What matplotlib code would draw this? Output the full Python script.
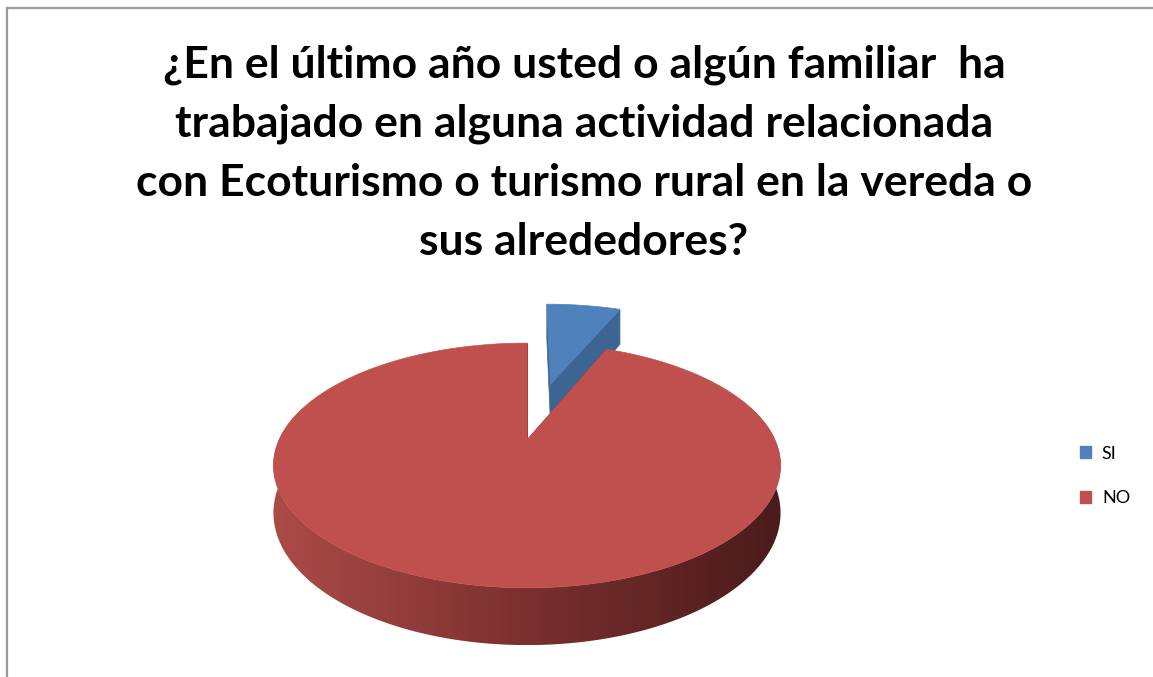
import numpy as np
import matplotlib
matplotlib.use('Agg')
import matplotlib.pyplot as plt
from matplotlib.patches import Polygon, Patch, Rectangle
from matplotlib.colors import to_rgb, LinearSegmentedColormap

W, H_PX = 1153, 677

TITLE_LINES = ['¿En el último año usted o algún familiar  ha',
               'trabajado en alguna actividad relacionada',
               'con Ecoturismo o turismo rural en la vereda o',
               'sus alrededores?']
LABELS = ['SI', 'NO']
VALUES = [2, 30]
COLORS = ['#4F81BD', '#C0504D']
FACE_COLORS = ['#3C6593', '#8E3A38']
EXPLODE = [0.54, 0.0]

# 3d look of the pie
CENTER_PX = (527, 440)
UNIT_PX = 248
TILT = 0.472
PERSP = 0.208
THICK = 0.183
WALL_CMAP = LinearSegmentedColormap.from_list('wall', ['#AC4B48', '#7A302E', '#4A1B1B'])
FONT = 'Lato'


def proj(u, v, z):
    s = 1.0 / (1.0 + PERSP * v)
    return u * s, (v * TILT + z) * s


def drawSlice(ax, a0, a1, explode, topColor, faceColor, zo):
    mid = (a0 + a1) / 2
    du, dv = explode * np.sin(mid), explode * np.cos(mid)
    n = max(int(np.degrees(a1 - a0)), 2)
    angs = np.linspace(a0, a1, n + 1)

    # outer wall, only the front part shows -> one polygon with a gradient
    front = angs[np.cos(angs) < 0.3]
    if len(front) > 1:
        topArc = [proj(du + np.sin(t), dv + np.cos(t), 0) for t in front]
        botArc = [proj(du + np.sin(t), dv + np.cos(t), -THICK) for t in front[::-1]]
        wall = Polygon(topArc + botArc, closed=True, facecolor='none', edgecolor='none')
        ax.add_patch(wall)
        xs = np.array([p[0] for p in topArc + botArc])
        ys = np.array([p[1] for p in topArc + botArc])
        grad = np.linspace(0, 1, 256).reshape(1, -1)
        im = ax.imshow(grad, cmap=WALL_CMAP, aspect='auto', zorder=zo,
                       extent=(xs.min(), xs.max(), ys.min(), ys.max()), interpolation='bilinear')
        im.set_clip_path(wall)

    # cut faces (hidden ones get covered by the top)
    for t in (a0, a1):
        pts = [proj(du, dv, 0), proj(du + np.sin(t), dv + np.cos(t), 0),
               proj(du + np.sin(t), dv + np.cos(t), -THICK), proj(du, dv, -THICK)]
        ax.add_patch(Polygon(pts, closed=True, facecolor=faceColor, edgecolor=faceColor,
                             lw=0.5, zorder=zo + 0.1))

    # top
    pts = [proj(du, dv, 0)] + [proj(du + np.sin(t), dv + np.cos(t), 0) for t in angs]
    ax.add_patch(Polygon(pts, closed=True, facecolor=topColor, edgecolor=topColor,
                         lw=0.5, zorder=zo + 0.2))


fig = plt.figure(figsize=(W / 100, H_PX / 100), dpi=100)

xl, yl = (-1.6, 1.6), (-0.95, 0.9)
ax = fig.add_axes([(CENTER_PX[0] + xl[0] * UNIT_PX) / W,
                   (H_PX - CENTER_PX[1] + yl[0] * UNIT_PX) / H_PX,
                   (xl[1] - xl[0]) * UNIT_PX / W,
                   (yl[1] - yl[0]) * UNIT_PX / H_PX])

fracs = np.array(VALUES, dtype=float) / sum(VALUES)
edges = np.concatenate([[0], np.cumsum(fracs)]) * 2 * np.pi
slices = []
for i in range(len(VALUES)):
    slices.append((edges[i], edges[i + 1], EXPLODE[i], COLORS[i], FACE_COLORS[i]))
# back slices first
slices.sort(key=lambda s: -(np.cos((s[0] + s[1]) / 2) * (1 + s[2])))
for k, s in enumerate(slices):
    drawSlice(ax, *s, zo=1 + k)

ax.set_xlim(*xl)
ax.set_ylim(*yl)
ax.axis('off')

# title
for i, line in enumerate(TITLE_LINES):
    fig.text(584 / W, 1 - (65 + i * 59) / H_PX, line, ha='center', va='center',
             fontsize=32, fontweight='bold', family=FONT, color='black')

handles = [Patch(facecolor=c, edgecolor=c) for c in COLORS]
fig.legend(handles, LABELS, loc='center left', bbox_to_anchor=(1064 / W, 1 - 476 / H_PX),
           frameon=False, handlelength=0.6, handleheight=0.6, handletextpad=0.6,
           labelspacing=1.6, prop={'family': FONT, 'size': 13})

fig.add_artist(Rectangle((7 / W, -0.1), 1.2, 1.1 - 8 / H_PX, transform=fig.transFigure,
                         fill=False, edgecolor='#9a9a9a', lw=1.6))

fig.savefig('out.png', dpi=100)
